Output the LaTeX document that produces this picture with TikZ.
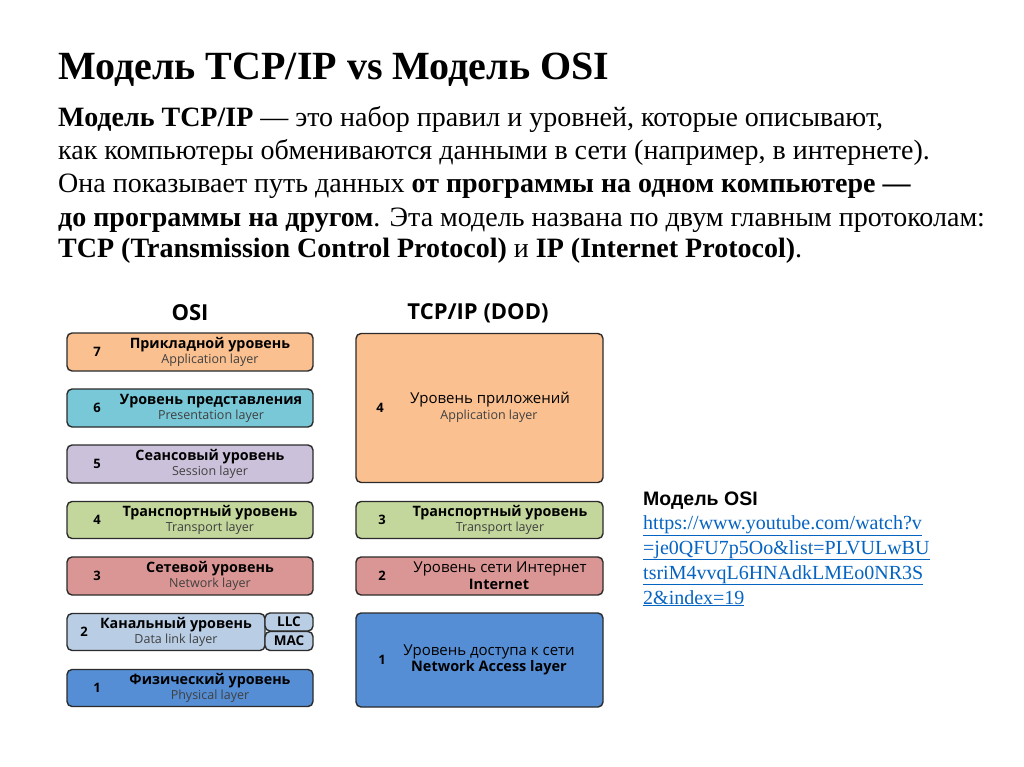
\documentclass[tikz,border=0pt]{standalone}
\usepackage{fontspec}
\setmainfont{Liberation Serif}
\newfontfamily\boxfont{Open Sans}
\newfontfamily\headfont{Liberation Sans}
\usetikzlibrary{positioning}
\definecolor{appbg}{HTML}{FAC090}
\definecolor{presbg}{HTML}{78C8D8}
\definecolor{sessbg}{HTML}{CCC1DA}
\definecolor{transbg}{HTML}{C3D69B}
\definecolor{netbg}{HTML}{DA9694}
\definecolor{linkbg}{HTML}{B9CDE5}
\definecolor{physbg}{HTML}{558ED5}
\definecolor{edge}{HTML}{2B2B2B}
\definecolor{entext}{HTML}{404040}
\definecolor{urlblue}{HTML}{0563C1}

\begin{document}
\begin{tikzpicture}[
    x=1pt, y=-1pt,
    every node/.style={inner sep=0pt},
    title/.style={font=\bfseries\fontsize{40}{44}\selectfont},
    body/.style={font=\fontsize{28}{30}\selectfont},
    head/.style={font=\boxfont\bfseries\fontsize{22}{22}\selectfont},
    layer/.style={draw=edge, line width=1.4pt, rounded corners=5pt},
    num/.style={font=\boxfont\bfseries\fontsize{13}{13}\selectfont},
    ru/.style={font=\boxfont\bfseries\fontsize{14.3}{14}\selectfont},
    ruplain/.style={font=\boxfont\fontsize{15}{15}\selectfont},
    en/.style={font=\boxfont\fontsize{12.5}{12}\selectfont, text=entext},
    enbold/.style={font=\boxfont\bfseries\fontsize{14.5}{14}\selectfont},
    sub/.style={font=\boxfont\bfseries\fontsize{13.5}{13}\selectfont},
    url/.style={font=\fontsize{20}{22}\selectfont, text=urlblue, anchor=base west}
]
    \useasboundingbox (0,0) rectangle (1024,767);

    % heading and text
    \node[title, anchor=base west] (ttl) at (58,80) {Модель TCP/IP vs Модель OSI};
    \node[body, anchor=base west] (l1) at (58,127)
        {\textbf{Модель TCP/IP} — это набор правил и уровней, которые описывают,};
    \node[body, anchor=base west] (l2) at (58,160)
        {как компьютеры обмениваются данными в сети (например, в интернете).};
    \node[body, anchor=base west] (l3) at (58,193)
        {Она показывает путь данных \textbf{от программы на одном компьютере —}};
    \node[body, anchor=base west] (l4) at (58,226)
        {\textbf{до программы на другом}. Эта модель названа по двум главным протоколам:};
    \node[body, anchor=base west] (l5) at (58,258)
        {\textbf{TCP (Transmission Control Protocol)} и \textbf{IP (Internet Protocol)}.};

    % OSI column
    \node[head] (osihead) at (190,313) {OSI};
    \node[layer, fill=appbg, minimum width=246, minimum height=38] (osi7) at (190,352) {};
    \node[layer, fill=presbg, minimum width=246, minimum height=38] (osi6) at (190,408) {};
    \node[layer, fill=sessbg, minimum width=246, minimum height=38] (osi5) at (190,464) {};
    \node[layer, fill=transbg, minimum width=246, minimum height=37] (osi4) at (190,520) {};
    \node[layer, fill=netbg, minimum width=246, minimum height=38] (osi3) at (190,576) {};
    \node[layer, fill=linkbg, minimum width=198, minimum height=37] (osi2) at (166,632) {};
    \node[layer, fill=linkbg, minimum width=48, minimum height=18] (llc) at (289,622) {};
    \node[layer, fill=linkbg, minimum width=48, minimum height=19] (mac) at (289,641) {};
    \node[layer, fill=physbg, minimum width=246, minimum height=37] (osi1) at (190,688) {};

    \node[num] (n7) at (97,352) {7};
    \node[ru] (r7) at (210,345) {Прикладной уровень};
    \node[en] (e7) at (210,360) {Application layer};
    \node[num] (n6) at (97,408) {6};
    \node[ru] (r6) at (211,401) {Уровень представления};
    \node[en] (e6) at (211,416) {Presentation layer};
    \node[num] (n5) at (97,464) {5};
    \node[ru] (r5) at (210,457) {Сеансовый уровень};
    \node[en] (e5) at (210,472) {Session layer};
    \node[num] (n4) at (97,520) {4};
    \node[ru] (r4) at (210,513) {Транспортный уровень};
    \node[en] (e4) at (210,528) {Transport layer};
    \node[num] (n3) at (97,576) {3};
    \node[ru] (r3) at (210,569) {Сетевой уровень};
    \node[en] (e3) at (210,584) {Network layer};
    \node[num] (n2) at (84,632) {2};
    \node[ru] (r2) at (176,625) {Канальный уровень};
    \node[en] (e2) at (176,640) {Data link layer};
    \node[sub] (tllc) at (289,622) {LLC};
    \node[sub] (tmac) at (289,641) {MAC};
    \node[num] (n1) at (97,688) {1};
    \node[ru] (r1) at (210,681) {Физический уровень};
    \node[en] (e1) at (210,696) {Physical layer};

    % TCP/IP column
    \node[head] (tcphead) at (478,313) {TCP/IP (DOD)};
    \node[layer, fill=appbg, minimum width=247, minimum height=149] (tcp4) at (479.5,408) {};
    \node[layer, fill=transbg, minimum width=247, minimum height=37] (tcp3) at (479.5,520) {};
    \node[layer, fill=netbg, minimum width=247, minimum height=38] (tcp2) at (479.5,576) {};
    \node[layer, fill=physbg, minimum width=247, minimum height=94] (tcp1) at (479.5,660) {};

    \node[num] (m4) at (380,408) {4};
    \node[ruplain] (s4) at (490,400) {Уровень приложений};
    \node[en] (f4) at (489,416) {Application layer};
    \node[num] (m3) at (382,520) {3};
    \node[ru] (s3) at (500,513) {Транспортный уровень};
    \node[en] (f3) at (500,528) {Transport layer};
    \node[num] (m2) at (382,576) {2};
    \node[ruplain] (s2) at (500,569) {Уровень сети Интернет};
    \node[enbold] (f2) at (499,584) {Internet};
    \node[num] (m1) at (382,660) {1};
    \node[ruplain] (s1) at (489,652) {Уровень доступа к сети};
    \node[enbold] (f1) at (489,668) {Network Access layer};

    % link block
    \node[font=\headfont\bfseries\fontsize{19.5}{20}\selectfont, anchor=base west] (osiref) at (643,505) {Модель OSI};
    \node[url] (u1) at (643,529) {\underline{https://www.youtube.com/watch?v}};
    \node[url] (u2) at (643,554) {\underline{=je0QFU7p5Oo\&list=PLVULwBU}};
    \node[url] (u3) at (643,579) {\underline{tsriM4vvqL6HNAdkLMEo0NR3S}};
    \node[url] (u4) at (643,604) {\underline{2\&index=19}};
\end{tikzpicture}
\end{document}
